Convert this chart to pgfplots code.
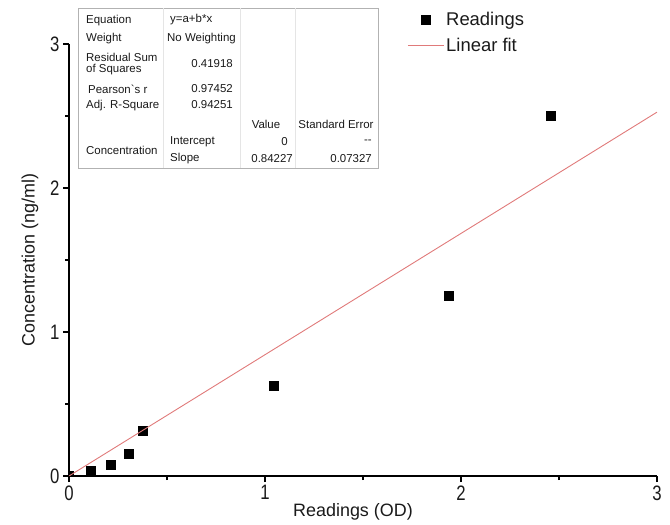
\documentclass[border=0pt]{standalone}
\usepackage{fontspec}
\setmainfont{Liberation Sans}
\newfontfamily\tickfont[FakeStretch=0.8]{Liberation Sans}
\usepackage{pgfplots}
\pgfplotsset{compat=1.18}
\definecolor{fitred}{HTML}{E07A7A}
\definecolor{txt}{HTML}{1A1A1A}
\begin{document}
\begin{tikzpicture}
\useasboundingbox (0,0) rectangle (670bp,525bp);
\begin{axis}[
  at={(69bp,49bp)}, anchor=south west,
  scale only axis, width=588bp, height=432bp,
  xmin=0, xmax=3, ymin=0, ymax=3,
  clip marker paths=true,
  axis x line*=bottom, axis y line*=left,
  axis line style={line width=1.2bp, -},
  x axis line style={-}, y axis line style={-},
  xtick={0,1,2,3}, ytick={0,1,2,3},
  minor xtick={0.5,1.5,2.5}, minor ytick={0.5,1.5,2.5},
  tick align=outside,
  major tick length=6bp, minor tick length=4bp,
  tick style={line width=1.2bp, black},
  ticklabel style={font=\tickfont\fontsize{21}{21}\selectfont, text=txt},
  /pgf/number format/assume math mode=true,
  xlabel={Readings (OD)}, ylabel={Concentration (ng/ml)},
  label style={font=\fontsize{18}{18}\selectfont, text=txt},
  xlabel style={xshift=-10bp, yshift=4bp},
  ylabel style={yshift=5bp},
  legend style={at={(0.575,1.078)}, anchor=north west, draw=none, fill=none,
    font=\fontsize{18.5}{18.5}\selectfont, row sep=7bp, inner sep=0pt,
    cells={anchor=west, text=txt}},
  legend image code/.code={\draw[mark repeat=2,mark phase=2,#1] plot coordinates {(0bp,0bp) (18bp,0bp) (36bp,0bp)};},
]
\addplot[only marks, mark=square*, mark size=4.5bp, black] coordinates {
  (0,0) (0.111,0.039) (0.214,0.078) (0.303,0.156) (0.376,0.3125)
  (1.042,0.625) (1.935,1.25) (2.457,2.5)};
\addlegendentry{Readings}
\addplot[fitred, line width=0.9bp, no marks] coordinates {(0,0) (3,2.52681)};
\addlegendentry{Linear fit}
\end{axis}
% fit results table
\draw[gray!60, line width=0.6bp] (78bp,517bp) rectangle (378bp,357bp);
\foreach \xx in {163,240,295} {\draw[gray!20, line width=0.5bp] (\xx bp,517bp) -- (\xx bp,357bp);}
\begin{scope}[every node/.style={inner sep=0pt, font=\fontsize{11.5}{12}\selectfont, text=txt}]
\node[anchor=west] at (86bp,504bp) {Equation};
\node[anchor=west] at (170bp,505bp) {y=a+b*x};
\node[anchor=west] at (86bp,486bp) {Weight};
\node[anchor=west] at (167bp,486bp) {No Weighting};
\node[anchor=west] at (86bp,468bp) {Residual Sum};
\node[anchor=west] at (86bp,455bp) {of Squares};
\node[anchor=east] at (233bp,461bp) {0.41918};
\node[anchor=west] at (88bp,436bp) {Pearson\textasciigrave s r};
\node[anchor=east] at (233bp,436bp) {0.97452};
\node[anchor=west] at (86bp,419bp) {Adj. R-Square};
\node[anchor=east] at (233bp,420bp) {0.94251};
\node at (266bp,401bp) {Value};
\node at (336bp,401bp) {Standard Error};
\node[anchor=west] at (86bp,375bp) {Concentration};
\node[anchor=west] at (170bp,383bp) {Intercept};
\node[anchor=east] at (288bp,383bp) {0};
\node[anchor=east] at (372bp,383bp) {{-}{-}};
\node[anchor=west] at (170bp,366bp) {Slope};
\node[anchor=east] at (293bp,366bp) {0.84227};
\node[anchor=east] at (372bp,366bp) {0.07327};
\end{scope}
\end{tikzpicture}
\end{document}
